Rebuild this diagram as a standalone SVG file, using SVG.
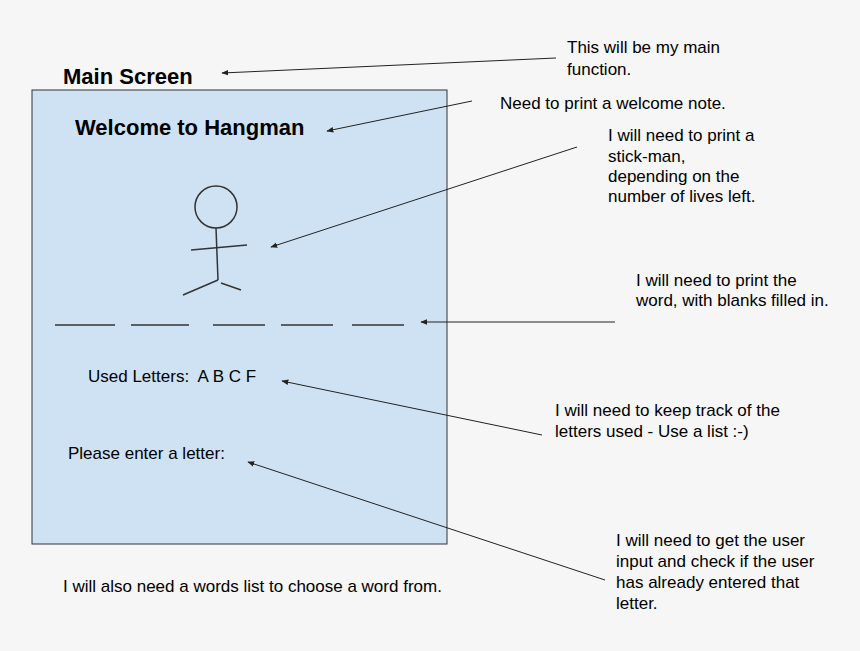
<svg xmlns="http://www.w3.org/2000/svg" width="860" height="651" viewBox="0 0 860 651">
<defs>
<style>
text{font-family:"Liberation Sans",Arial,sans-serif;fill:#000;font-size:17px;white-space:pre}
.b{font-weight:bold;font-size:22px}
.c{stroke:#222;stroke-width:1;fill:none}
.s{stroke:#333;stroke-width:1.5;fill:none}
</style>
<marker id="a" viewBox="0 0 10 10" refX="9" refY="5" markerWidth="7" markerHeight="7" orient="auto"><path d="M0,1 L10,5 L0,9 z" fill="#222"/></marker>
</defs>
<rect width="860" height="651" fill="#f6f6f6"/>
<g id="screen"><rect x="32" y="90" width="415" height="454" fill="#cfe2f3" stroke="#333" stroke-width="1"/></g>
<g id="title"><text class="b" x="63" y="84">Main Screen</text></g>
<g id="welcome"><text class="b" x="75" y="135">Welcome to Hangman</text></g>
<g id="stickman" class="s">
<circle cx="216" cy="207" r="21"/>
<line x1="216" y1="228" x2="218" y2="280"/>
<line x1="191" y1="250" x2="247" y2="245"/>
<line x1="218" y1="280" x2="183" y2="295"/>
<line x1="221" y1="283" x2="241" y2="290"/>
</g>
<g id="blanks" class="s" stroke-width="1.2">
<line x1="55" y1="325" x2="115" y2="325"/>
<line x1="131" y1="325" x2="189" y2="325"/>
<line x1="213" y1="325" x2="265" y2="325"/>
<line x1="281" y1="325" x2="333" y2="325"/>
<line x1="352" y1="325" x2="404" y2="325"/>
</g>
<g id="used"><text x="88" y="382">Used Letters:  A B C F</text></g>
<g id="enter"><text x="68" y="459">Please enter a letter:</text></g>
<g id="footer"><text x="63" y="592">I will also need a words list to choose a word from.</text></g>
<g id="notes">
<text x="567" y="53">This will be my main</text><text x="567" y="75">function.</text>
<text x="500" y="109">Need to print a welcome note.</text>
<text x="608" y="141">I will need to print a</text><text x="608" y="162">stick-man,</text><text x="608" y="182">depending on the</text><text x="608" y="202">number of lives left.</text>
<text x="636" y="286">I will need to print the</text><text x="636" y="306">word, with blanks filled in.</text>
<text x="555" y="416">I will need to keep track of the</text><text x="555" y="437">letters used - Use a list :-)</text>
<text x="616" y="546">I will need to get the user</text><text x="616" y="567">input and check if the user</text><text x="616" y="588">has already entered that</text><text x="616" y="609">letter.</text>
</g>
<g id="connectors" class="c" marker-end="url(#a)">
<line x1="556" y1="58" x2="222" y2="73"/>
<line x1="472" y1="101" x2="327" y2="131"/>
<line x1="577" y1="147" x2="271" y2="247"/>
<line x1="615" y1="322" x2="421" y2="322"/>
<line x1="542" y1="435" x2="282" y2="381"/>
<line x1="605" y1="580" x2="248" y2="462"/>
</g>
</svg>
